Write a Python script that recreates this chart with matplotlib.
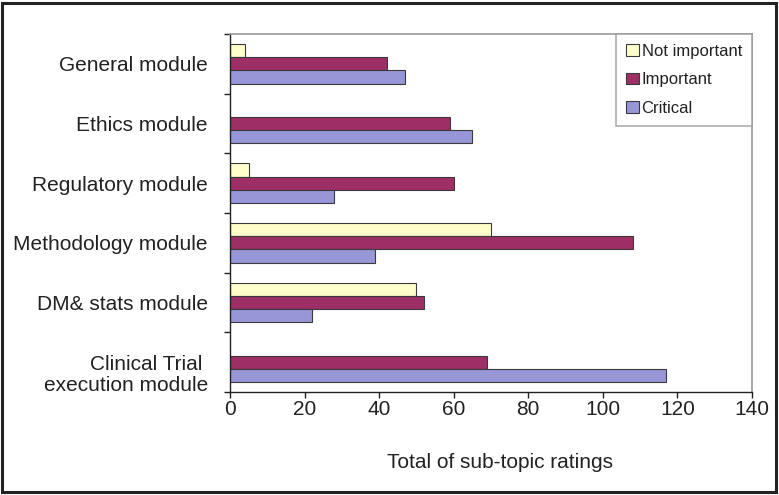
import numpy as np
import matplotlib
matplotlib.use("Agg")
from matplotlib import pyplot as plt
from matplotlib.patches import Rectangle
from matplotlib.transforms import ScaledTranslation

modules = ["General module", "Ethics module", "Regulatory module",
           "Methodology module", "DM& stats module", "Clinical Trial \nexecution module"]
not_important = [4, 0, 5, 70, 50, 0]
important = [42, 59, 60, 108, 52, 69]
critical = [47, 65, 28, 39, 22, 117]
x_ticks = [0, 20, 40, 60, 80, 100, 120, 140]


def main():
    plt.rcParams["font.family"] = ["Liberation Sans", "DejaVu Sans"]
    fig = plt.figure(figsize=(7.79, 4.95), dpi=100)
    ax = fig.add_axes([0.2953, 0.2081, 0.6700, 0.7232])

    y = np.arange(len(modules))
    h = 0.22
    edge = "#3a3a3a"
    bars_ni = ax.barh(y - h, not_important, height=h, color="#FFFFCC", edgecolor=edge, linewidth=0.8,
                      label="Not important")
    bars_i = ax.barh(y, important, height=h, color="#9E2F66", edgecolor=edge, linewidth=0.8,
                     label="Important")
    bars_c = ax.barh(y + h, critical, height=h, color="#9797D8", edgecolor=edge, linewidth=0.8,
                     label="Critical")
    # zero-length bars are not drawn in the original
    for b in list(bars_ni) + list(bars_i) + list(bars_c):
        if b.get_width() == 0:
            b.set_visible(False)

    ax.set_ylim(len(modules) - 0.5, -0.5)
    ax.set_xlim(0, 140)
    ax.set_xticks(x_ticks)
    ax.set_yticks(y)
    ax.set_yticklabels(modules, fontsize=15, color="#222222", multialignment="right", linespacing=1.1)
    ax.set_yticks(np.arange(len(modules) + 1) - 0.5, minor=True)
    ax.tick_params(axis="y", which="major", length=0, pad=16)
    ax.tick_params(axis="y", which="minor", length=4, width=1, color="#222222", direction="out")
    ax.tick_params(axis="x", which="major", length=4, width=1, color="#222222", labelsize=15,
                   labelcolor="#222222", pad=2)
    ax.set_xlabel("Total of sub-topic ratings", fontsize=15, color="#222222", labelpad=24)
    ax.xaxis.label.set_x(0.518)

    # last label sits a bit lower in the original
    lab = ax.get_yticklabels()[-1]
    lab.set_transform(lab.get_transform() + ScaledTranslation(0, -0.1, fig.dpi_scale_trans))

    for side in ["left", "bottom"]:
        ax.spines[side].set_color("#222222")
        ax.spines[side].set_linewidth(1)
    for side in ["top", "right"]:
        ax.spines[side].set_color("#9a9a9a")
        ax.spines[side].set_linewidth(1.2)

    leg = ax.legend(loc="upper right", fontsize=12, frameon=True, fancybox=False,
                    borderaxespad=0, handlelength=0.78, handleheight=0.72, handletextpad=0.15,
                    labelspacing=0.8, borderpad=0.6)
    leg.get_frame().set_edgecolor("#9a9a9a")
    leg.get_frame().set_linewidth(1.2)
    for t in leg.get_texts():
        t.set_color("#222222")

    fig.patches.append(Rectangle((1.5 / 779, 3.5 / 495), 774 / 779, 489 / 495, transform=fig.transFigure,
                                 fill=False, edgecolor="#222222", linewidth=2.2))

    plt.savefig("out.png", dpi=100)


if __name__ == "__main__":
    main()
